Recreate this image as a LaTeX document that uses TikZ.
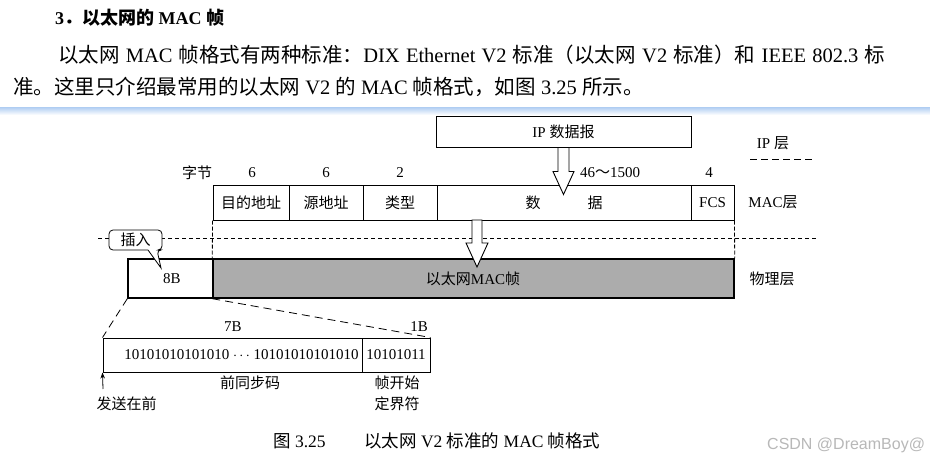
\documentclass[tikz,border=0pt]{standalone}
\usepackage{fontspec}
\setmainfont{Liberation Serif}
\newfontfamily\zhfont{Noto Sans CJK SC}
\newfontfamily\wmfont{Liberation Sans}
\newcommand\zh[1]{{\zhfont #1}}
\usetikzlibrary{arrows.meta}
\definecolor{bandblue}{RGB}{175,205,242}
\definecolor{physgray}{RGB}{172,172,172}
\begin{document}
\begin{tikzpicture}[x=1pt,y=-1pt,
  dfont/.style={font=\fontsize{15}{18}\selectfont},
  lbl/.style={dfont, inner sep=0pt},
  field/.style={dfont, draw, line width=1pt, minimum height=35, inner sep=0pt},
  physbox/.style={dfont, draw, line width=1.4pt, minimum height=39, inner sep=0pt},
  prebox/.style={dfont, draw, line width=1pt, minimum height=34, inner sep=0pt},
  hollow/.style={draw, line width=0.9pt, fill=white, line join=miter},
  layerdash/.style={line width=0.8pt, dash pattern=on 4pt off 3pt},
  zoomdash/.style={line width=0.8pt, dash pattern=on 8pt off 5pt}]
\useasboundingbox (0,0) rectangle (930,463);
\fill[white] (0,0) rectangle (930,463);
% blue band
\shade[top color=bandblue, bottom color=white] (0,107) rectangle (930,115);

% heading and paragraph
\node[anchor=west, inner sep=0pt, font=\fontsize{18}{22}\selectfont\bfseries] (head) at (55,18)
  {3\zh{．以太网的} MAC \zh{帧}};
\node[anchor=west, inner sep=0pt, font=\fontsize{20.5}{24}\selectfont] (par1) at (58,55)
  {\makebox[827pt][s]{\zh{以太网} MAC \zh{帧格式有两种标准：}DIX Ethernet V2 \zh{标准（以太网} V2 \zh{标准）和} IEEE 802.3 \zh{标}}};
\node[anchor=west, inner sep=0pt, font=\fontsize{20.5}{24}\selectfont] (par2) at (13,87)
  {\zh{准。这里只介绍最常用的以太网} V2 \zh{的} MAC \zh{帧格式，如图} 3.25 \zh{所示。}};

% IP layer
\node[field, minimum width=255, minimum height=31] (ip) at (563.5,131.5) {IP \zh{数据报}};
\node[lbl] (iplayer) at (773,143) {IP \zh{层}};
\coordinate (ipd1) at (750,159);
\coordinate (ipd2) at (813,159);
\draw[line width=0.8pt, dash pattern=on 7pt off 4pt] (ipd1) -- (ipd2);

% byte counts
\node[lbl] (bytes) at (197,173) {\zh{字节}};
\node[lbl] (n1) at (252,173) {6};
\node[lbl] (n2) at (326,173) {6};
\node[lbl] (n3) at (400,173) {2};
\node[lbl] (n4) at (610,173) {46\zh{～}1500};
\node[lbl] (n5) at (709,173) {4};

% MAC frame fields
\node[field, minimum width=76] (dst) at (251,202.5) {\zh{目的地址}};
\node[field, minimum width=74] (src) at (326,202.5) {\zh{源地址}};
\node[field, minimum width=74] (typ) at (400,202.5) {\zh{类型}};
\node[field, minimum width=254] (dat) at (564,202.5) {\zh{数}\hspace{47pt}\zh{据}};
\node[field, minimum width=43] (fcs) at (712.5,202.5) {FCS};
\node[lbl] (maclayer) at (773,202) {MAC\zh{层}};

% hollow arrow IP -> data
\draw[hollow] (ip.south) ++(-5.5,0) -- ++(0,24) -- ++(-5,0) -- ++(10.5,23) -- ++(10.5,-23) -- ++(-5,0) -- ++(0,-24) -- cycle;

% layer separator
\coordinate (sep1) at (98,238);
\coordinate (sep2) at (818,238);
\draw[layerdash] (sep1) -- (sep2);

% physical layer
\node[physbox, minimum width=85] (pre8) at (170.5,278.5) {};
\node[lbl] (pre8t) at (172,279) {8B};
\node[physbox, minimum width=521, fill=physgray] (frame) at (473.5,278.5) {};
\node[lbl] (framet) at (473,279) {\zh{以太网}MAC\zh{帧}};
\node[lbl] (physlayer) at (772,279) {\zh{物理层}};
\draw[line width=0.8pt, dash pattern=on 4pt off 2pt] (dst.south west) -- (frame.north west);
\draw[line width=0.8pt, dash pattern=on 4pt off 2pt] (fcs.south east) -- (frame.north east);

% hollow arrow data -> frame
\coordinate (a2) at (477,220);
\draw[hollow] (a2) ++(-5,0) -- ++(0,23) -- ++(-6,0) -- ++(11,24) -- ++(11,-24) -- ++(-6,0) -- ++(0,-23) -- cycle;

% callout
\draw[line width=0.8pt, fill=white, rounded corners=4pt] (148,250) -- (109,250) -- (109,230) -- (162,230) -- (162,250) -- (157,250) [sharp corners] -- (161,268) -- cycle;
\node[lbl] (ins) at (135.5,240) {\zh{插入}};

% preamble detail
\node[prebox, minimum width=259] (pre) at (232.5,355) {};
\node[prebox, minimum width=68] (sfd) at (396,355) {};
\node[lbl] (pret) at (241.5,355) {10101010101010 $\cdots$ 10101010101010};
\node[lbl] (sfdt) at (396,355) {10101011};
\draw[zoomdash] (pre8.south west) -- (pre.north west);
\draw[zoomdash] (frame.south west) -- (sfd.north east);
\node[lbl] (b7) at (233,327) {7B};
\node[lbl] (b1) at (419,327) {1B};
\node[lbl] (pren) at (250,383) {\zh{前同步码}};
\node[lbl] (sfdn1) at (397,383) {\zh{帧开始}};
\node[lbl] (sfdn2) at (397,404) {\zh{定界符}};
\coordinate (sendfrom) at (103,389);
\draw[line width=0.8pt, -{Stealth[length=6pt,width=4.5pt]}] (sendfrom) -- (pre.south west);
\node[lbl] (send) at (126.5,404) {\zh{发送在前}};

% caption
\node[anchor=west, inner sep=0pt, font=\fontsize{17.5}{20}\selectfont] (cap) at (273,441)
  {\zh{图} 3.25\hspace{2.2em}\zh{以太网} V2 \zh{标准的} MAC \zh{帧格式}};
\node[anchor=west, inner sep=0pt, text=black!28, font=\wmfont\fontsize{16}{18}\selectfont] (wm) at (767,445) {CSDN @DreamBoy@};
\end{tikzpicture}
\end{document}
